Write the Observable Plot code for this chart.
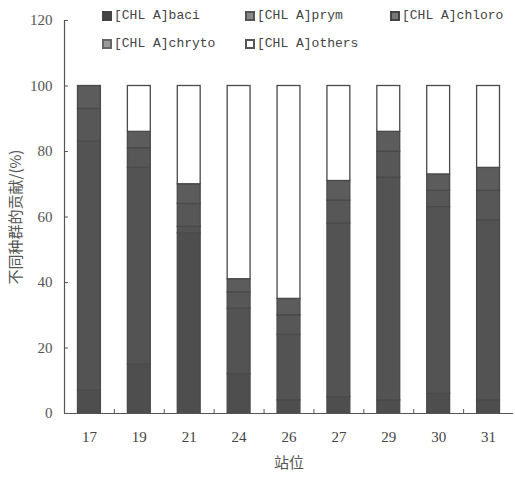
<!DOCTYPE html>
<html><head><meta charset="utf-8">
<script src="https://cdn.jsdelivr.net/npm/d3@7"></script>
<script src="https://cdn.jsdelivr.net/npm/@observablehq/plot@0.6"></script>
<style>
body{margin:0;background:#fff;}
#wrap{position:relative;width:515px;height:482px;}
.lg{position:absolute;font-family:"Liberation Mono","DejaVu Sans Mono",monospace;font-size:13px;color:#444;display:flex;align-items:center;white-space:nowrap;}
.sw{display:inline-block;width:10px;height:10px;box-sizing:border-box;margin-right:2px;}
</style></head>
<body><div id="wrap"></div>
<script>
const stations = ["17","19","21","24","26","27","29","30","31"];
const seriesNames = ["[CHL A]baci","[CHL A]prym","[CHL A]chloro","[CHL A]chryto","[CHL A]others"];
const baci   = [7, 15, 55, 12, 4, 5, 4, 6, 4];
const prym   = [76, 60, 2, 20, 20, 53, 68, 57, 55];
const chloro = [10, 6, 7, 5, 6, 7, 8, 5, 9];
const chryto = [7, 5, 6, 4, 5, 6, 6, 5, 7];
const others = [0, 14, 30, 59, 65, 29, 14, 27, 25];
const yTicks = [0, 20, 40, 60, 80, 100, 120];

const seriesValues = [baci, prym, chloro, chryto, others];
const fills = ["#4e4e4e", "#535353", "#575757", "#5c5c5c", "#ffffff"];

const rows = [];
seriesNames.forEach((s, k) => stations.forEach((st, i) => rows.push({idx: i, station: st, series: s, value: seriesValues[k][i]})));

const ink = "#555";
const chart = Plot.plot({
  width: 515, height: 482,
  marginLeft: 64, marginRight: 2, marginTop: 20, marginBottom: 69,
  style: {fontFamily: "'Liberation Serif', serif", fontSize: "15px", color: "#444", background: "#fff"},
  x: {domain: [0, stations.length], axis: null},
  y: {domain: [0, 120], axis: null},
  color: {domain: seriesNames, range: fills},
  marks: [
    Plot.rectY(rows, Plot.stackY({order: null}, {x: "idx", interval: 1, y: "value", fill: "series", stroke: "#4a4a4a", strokeWidth: 1.3, insetLeft: 13.5, insetRight: 13.5})),
    Plot.ruleX([0], {y1: 0, y2: 120, stroke: ink, strokeWidth: 1.2}),
    Plot.ruleY([0], {stroke: ink, strokeWidth: 1.2}),
    Plot.ruleY(yTicks, {x1: 0, x2: 0.08, stroke: ink}),
    Plot.ruleX(d3.range(1, stations.length), {y1: 0, y2: 1.2, stroke: ink}),
    Plot.text(yTicks, {x: 0, y: d => d, text: d => String(d), textAnchor: "end", dx: -12, fill: "#555", fontSize: 15}),
    Plot.text(stations, {x: (d, i) => i + 0.5, y: 0, text: d => d, dy: 24, fill: "#444", fontSize: 15}),
    Plot.text(["站位"], {x: stations.length / 2, y: 0, dy: 50, fill: "#555", fontSize: 15, fontFamily: "'Noto Sans CJK SC'"}),
    Plot.text(["不同种群的贡献/(%)"], {x: 0, y: 60, rotate: -90, dx: -48, fill: "#555", fontSize: 15, fontFamily: "'Noto Sans CJK SC'"})
  ]
});
const wrap = document.getElementById("wrap");
wrap.appendChild(chart);

const legendPos = [[102, 17], [245, 17], [390, 17], [102, 45], [245, 45]];
const swStyles = [
  "background:#444;border:1px solid #444;",
  "background:#888;border:2px solid #555;",
  "background:#777;border:2px solid #444;",
  "background:#999;border:2px solid #666;",
  "background:#fff;border:2px solid #555;"
];
seriesNames.forEach((s, k) => {
  const d = document.createElement("div");
  d.className = "lg";
  d.style.left = legendPos[k][0] + "px";
  d.style.top = (legendPos[k][1] - 9) + "px";
  d.innerHTML = `<span class="sw" style="${swStyles[k]}"></span><span>${s}</span>`;
  wrap.appendChild(d);
});
</script></body></html>
